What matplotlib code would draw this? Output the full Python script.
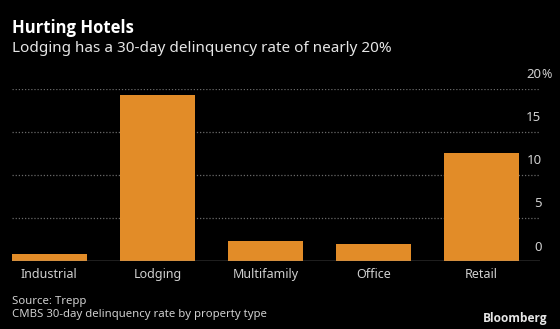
import matplotlib
matplotlib.use("Agg")
import matplotlib.pyplot as plt

# data
categories = ["Industrial", "Lodging", "Multifamily", "Office", "Retail"]
rates = [0.85, 19.25, 2.3, 2.05, 12.6]
yticks = [0, 5, 10, 15, 20]

plt.rcParams['font.family'] = ['Noto Sans', 'DejaVu Sans']

W, H = 560, 329
fig = plt.figure(figsize=(W / 100, H / 100), dpi=100, facecolor='black')
# axes in pixel terms: left 12, right 540, baseline 261, top gridline (20) at 89
ax = fig.add_axes([12 / W, 1 - 261.3 / H, (540 - 12) / W, (261.3 - 89) / H])
ax.set_facecolor('black')

x = range(len(categories))
ax.bar(x, rates, width=0.69, color='#E28C28', zorder=2)

ax.set_xlim(-0.345, 4.54)
ax.set_ylim(0, 20)

for t in yticks[1:]:
    ax.axhline(t, color='#6a6a6a', lw=0.9, ls=(0, (1, 1.5)), zorder=1)
ax.axhline(0, color='#9a9a9a', lw=1.0, zorder=3)

tr = ax.get_yaxis_transform()
lx = 1.0 + 1.5 / 528
for t in yticks:
    ax.text(lx, t + 0.9, str(t), transform=tr,
            ha='right', va='bottom', color='#d0d0d0', fontsize=9.5)
# percent sign hangs after the top label
ax.text(lx, 20 + 0.9, '%', transform=tr,
        ha='left', va='bottom', color='#d0d0d0', fontsize=9)

for xi, name in zip(x, categories):
    ax.text(xi, -0.75, name, ha='center', va='top', color='#d0d0d0', fontsize=9)

for s in ax.spines.values():
    s.set_visible(False)
ax.set_xticks([])
ax.set_yticks([])

# texts placed by their baselines (pixels from the top)
fig.text(12 / W, 1 - 33 / H, "Hurting Hotels", fontsize=12, fontweight='bold',
         family=['Open Sans', 'DejaVu Sans'], color='white', ha='left', va='baseline')
fig.text(12 / W, 1 - 51.5 / H, "Lodging has a 30-day delinquency rate of nearly 20%",
         fontsize=11, color='#e6e6e6', ha='left', va='baseline')
fig.text(12 / W, 1 - 304 / H, "Source: Trepp", fontsize=8.2, color='#cfcfcf',
         ha='left', va='baseline')
fig.text(12 / W, 1 - 317 / H, "CMBS 30-day delinquency rate by property type",
         fontsize=8.2, color='#cfcfcf', ha='left', va='baseline')
fig.text(548 / W, 1 - 322 / H, "Bloomberg", fontsize=8.6, fontweight='bold',
         family=['Open Sans', 'DejaVu Sans'], color='#e6e6e6', ha='right', va='baseline')

fig.savefig("out.png", dpi=100, facecolor='black')
